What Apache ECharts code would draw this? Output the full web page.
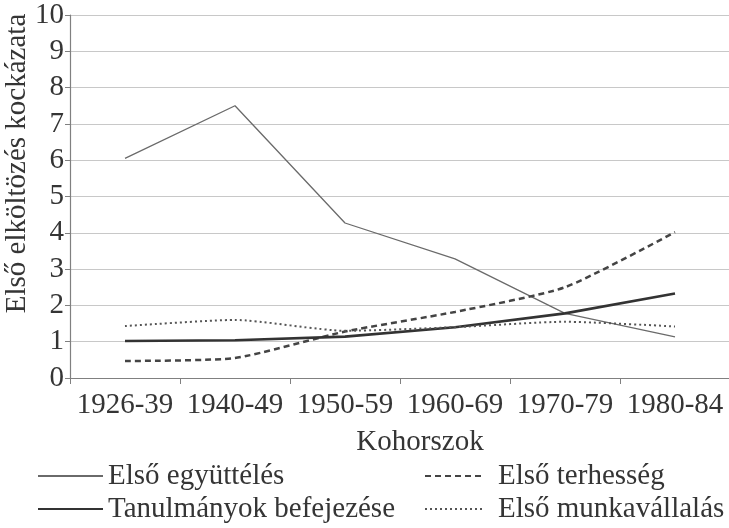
<!DOCTYPE html>
<html>
<head>
<meta charset="utf-8">
<script src="https://cdn.jsdelivr.net/npm/echarts@6/dist/echarts.min.js"></script>
<style>
  html, body { margin: 0; padding: 0; background: #fff; }
  #chart { width: 729px; height: 528px; }
</style>
</head>
<body>
<div id="chart"></div>
<script>
// cohorts on the x axis
var kohorszok = ['1926-39', '1940-49', '1950-59', '1960-69', '1970-79', '1980-84'];
var yTicks = [0, 1, 2, 3, 4, 5, 6, 7, 8, 9, 10];

// risk values
var egyutteles = [6.05, 7.5, 4.27, 3.28, 1.78, 1.13];
var terhesseg = [0.47, 0.55, 1.28, 1.82, 2.5, 4.02];
var tanulmanyok = [1.02, 1.04, 1.14, 1.4, 1.78, 2.33];
var munkavallalas = [1.43, 1.6, 1.3, 1.4, 1.55, 1.42];

var serif = '"Liberation Serif", "DejaVu Serif", serif';
var txt = '#353535';

// legend items: only the line, no circle in the middle
var legendBase = {
    orient: 'vertical',
    top: 461,
    padding: 0,
    itemHeight: 14,
    itemGap: 3,
    itemStyle: { color: 'rgba(0,0,0,0)', borderColor: 'rgba(0,0,0,0)', borderWidth: 0 }
};

var chart = echarts.init(document.getElementById('chart'));

var option = {
    animation: false,
    backgroundColor: '#fff',
    textStyle: { fontFamily: serif },
    grid: {
        left: 70,
        right: -1,
        top: 15,
        bottom: 150,
        outerBoundsMode: 'none',
        containLabel: false
    },
    legend: [
        Object.assign({}, legendBase, {
            data: ['Első együttélés', 'Tanulmányok befejezése'],
            left: 37,
            itemWidth: 65,
            textStyle: { fontFamily: serif, fontSize: 29, color: txt, lineHeight: 30 }
        }),
        Object.assign({}, legendBase, {
            data: ['Első terhesség', 'Első munkavállalás'],
            left: 424,
            itemWidth: 60,
            textStyle: { fontFamily: serif, fontSize: 29, color: txt, lineHeight: 30, padding: [0, 0, 0, 8] }
        })
    ],
    xAxis: {
        type: 'category',
        data: kohorszok,
        boundaryGap: true,
        name: 'Kohorszok',
        nameLocation: 'middle',
        nameGap: 50,
        nameMoveOverlap: false,
        nameTextStyle: { fontFamily: serif, fontSize: 29, color: txt, padding: [0, 0, 0, 40] },
        axisLine: { lineStyle: { color: '#808080', width: 1.2 } },
        axisTick: { show: true, length: 6, lineStyle: { color: '#808080' } },
        axisLabel: { interval: 0, fontFamily: serif, fontSize: 29, color: txt, margin: 13 }
    },
    yAxis: {
        type: 'value',
        min: yTicks[0],
        max: yTicks[yTicks.length - 1],
        interval: 1,
        name: 'Első elköltözés kockázata',
        nameLocation: 'middle',
        nameGap: 38,
        nameMoveOverlap: false,
        nameTextStyle: { fontFamily: serif, fontSize: 29, color: txt, padding: [0, 0, 0, 66] },
        axisLine: { show: true, lineStyle: { color: '#808080', width: 1.2 } },
        axisTick: { show: true, length: 5, lineStyle: { color: '#808080' } },
        axisLabel: { fontFamily: serif, fontSize: 29, color: txt, margin: 6 },
        splitLine: { show: true, lineStyle: { color: '#c8c8c8', width: 1 } }
    },
    series: [
        {
            name: 'Első együttélés',
            type: 'line',
            data: egyutteles,
            symbol: 'none',
            lineStyle: { color: '#6a6a6a', width: 1.3, type: 'solid' },
            itemStyle: { color: '#6a6a6a' }
        },
        {
            name: 'Első terhesség',
            type: 'line',
            data: terhesseg,
            symbol: 'none',
            smooth: 0.2,
            lineStyle: { color: '#444', width: 2.5, type: [6, 4] },
            itemStyle: { color: '#444' }
        },
        {
            name: 'Tanulmányok befejezése',
            type: 'line',
            data: tanulmanyok,
            symbol: 'none',
            lineStyle: { color: '#333', width: 2.6, type: 'solid' },
            itemStyle: { color: '#333' }
        },
        {
            name: 'Első munkavállalás',
            type: 'line',
            data: munkavallalas,
            symbol: 'none',
            smooth: 0.2,
            lineStyle: { color: '#555', width: 2, type: [2, 3] },
            itemStyle: { color: '#555' }
        }
    ]
};

chart.setOption(option);
</script>
</body>
</html>
